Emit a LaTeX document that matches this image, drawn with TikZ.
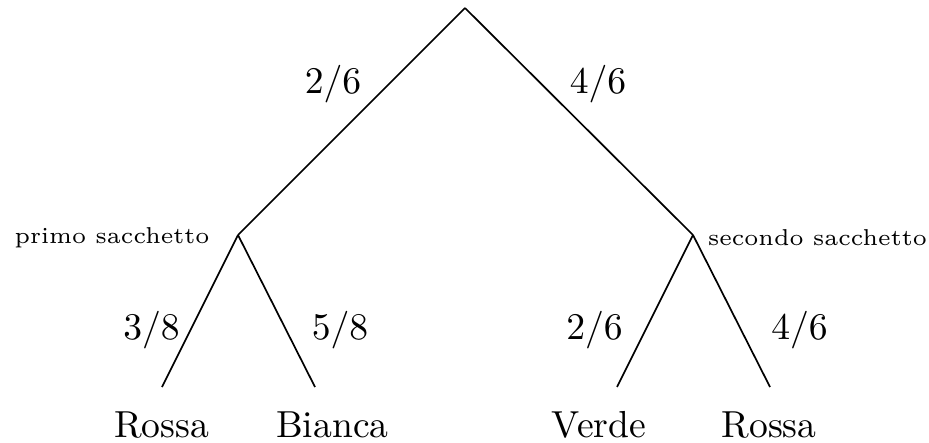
\documentclass[tikz,border=0pt]{standalone}
\begin{document}
\begin{tikzpicture}[x=0.2657pt,y=-0.2657pt,
  edge/.style={draw=black,line width=0.45pt},
  lbl/.style={inner sep=0pt,font=\normalsize},
  small/.style={inner sep=0pt,font=\fontsize{6.1}{8}\selectfont}]
\useasboundingbox (0,0) rectangle (929,442);
\coordinate (r) at (465,8);
\coordinate (p) at (238,235);
\coordinate (s) at (693,235);
\coordinate (l1) at (162,387);
\coordinate (l2) at (315,387);
\coordinate (l3) at (617,387);
\coordinate (l4) at (770,387);
\draw[edge] (r) -- (p);
\draw[edge] (r) -- (s);
\draw[edge] (p) -- (l1);
\draw[edge] (p) -- (l2);
\draw[edge] (s) -- (l3);
\draw[edge] (s) -- (l4);
\node[lbl] (f1) at (333,84) {$2/6$};
\node[lbl] (f2) at (598,84) {$4/6$};
\node[lbl] (f3) at (151.5,330) {$3/8$};
\node[lbl] (f4) at (340,330) {$5/8$};
\node[lbl] (f5) at (594.5,330) {$2/6$};
\node[lbl] (f6) at (799.5,330) {$4/6$};
\node[small] (np) at (112,238) {primo sacchetto};
\node[small] (ns) at (817.5,238) {secondo sacchetto};
\node[lbl] (t1) at (161.5,425) {Rossa};
\node[lbl] (t2) at (332.5,425) {Bianca};
\node[lbl] (t3) at (599,425) {Verde};
\node[lbl] (t4) at (769,425) {Rossa};
\end{tikzpicture}
\end{document}
